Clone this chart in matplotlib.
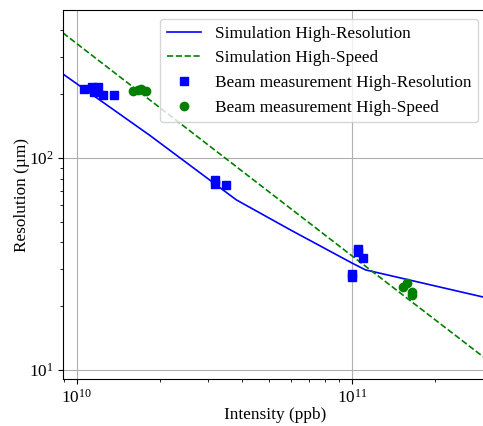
import numpy as np
import matplotlib
matplotlib.use("Agg")
import matplotlib.pyplot as plt

plt.rcParams["font.family"] = "serif"
plt.rcParams["font.serif"] = ["Liberation Serif", "DejaVu Serif"]
plt.rcParams["mathtext.fontset"] = "stix"
plt.rcParams["font.size"] = 12.4

# simulated resolution vs intensity
sim_hr_x = [8.9e9, 1.84e10, 3.8e10, 6.0e10, 1.0e11, 1.12e11, 3.1e11]
sim_hr_y = [249, 128, 63.5, 45.7, 32.0, 29.7, 21.9]
sim_hs_x = [8.9e9, 1.0e10, 1.0e11, 3.1e11]
sim_hs_y = [389, 346, 34.6, 11.2]

# beam test measurements
meas_hr_x = [1.06e10, 1.134e10, 1.153e10, 1.19e10, 1.243e10, 1.363e10,
             3.17e10, 3.17e10, 3.48e10,
             1.052e11, 1.052e11, 1.097e11, 1.0e11, 1.0e11]
meas_hr_y = [211, 216, 205, 216, 198, 198,
             78.8, 75.4, 74.6,
             37.2, 36.1, 33.7, 28.4, 27.5]
meas_hs_x = [1.60e10, 1.667e10, 1.71e10, 1.78e10,
             1.53e11, 1.585e11, 1.652e11, 1.652e11]
meas_hs_y = [207, 209, 212, 207,
             24.7, 25.7, 23.4, 22.6]

fig = plt.figure(figsize=(4.83, 4.26), dpi=100)
ax = fig.add_axes([63 / 483, 47 / 426, (487 - 63) / 483, (379 - 10) / 426])

ax.plot(sim_hr_x, sim_hr_y, color="blue", lw=1.2, label="Simulation High-Resolution")
ax.plot(sim_hs_x, sim_hs_y, color="green", lw=1.2, ls="--", label="Simulation High-Speed")
ax.plot(meas_hr_x, meas_hr_y, "s", color="blue", ms=6, label="Beam measurement High-Resolution")
ax.plot(meas_hs_x, meas_hs_y, "o", color="green", ms=6, label="Beam measurement High-Speed")

ax.set_xscale("log")
ax.set_yscale("log")
ax.set_xlim(8.9e9, 3.1e11)
ax.set_ylim(9.08, 499)
ax.grid(True, which="major", color="#b0b0b0", lw=0.8)
ax.set_xlabel("Intensity (ppb)", labelpad=0.5)
ax.set_ylabel("Resolution (µm)", labelpad=-1)
ax.legend(loc="upper right")

fig.savefig("out.png", dpi=100)
